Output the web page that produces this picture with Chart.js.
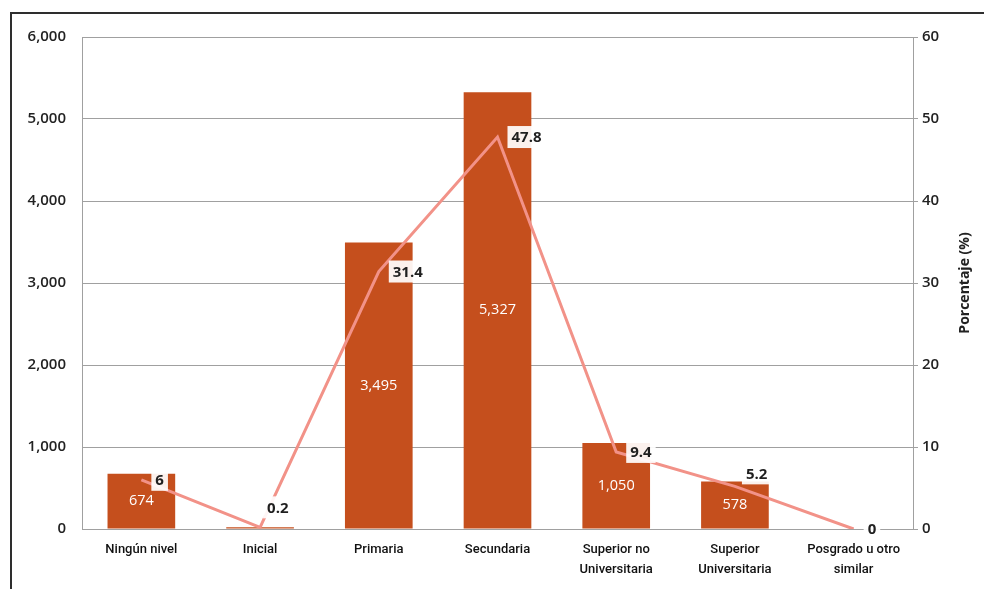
<!DOCTYPE html>
<html lang="es">
<head>
<meta charset="utf-8">
<title>Nivel educativo</title>
<script src="https://cdn.jsdelivr.net/npm/chart.js@4.4.1/dist/chart.umd.min.js"></script>
<style>
    html, body { margin: 0; padding: 0; background: #fff; overflow: hidden; }
    #marco { position: absolute; left: 10px; top: 12px; width: 1000px; height: 600px; border: 2px solid #2e2e2e; }
    #contenedor { position: absolute; left: 0; top: 0; width: 984px; height: 589px; }
</style>
</head>
<body>
<div id="marco"></div>
<div id="contenedor"><canvas id="grafico"></canvas></div>
<script>
// Datos del gráfico
const niveles = ['Ningún nivel', 'Inicial', 'Primaria', 'Secundaria', ['Superior no', 'Universitaria'], ['Superior', 'Universitaria'], ['Posgrado u otro', 'similar']];
const poblacion = [674, 22, 3495, 5327, 1050, 578, 0];
const porcentaje = [6, 0.2, 31.4, 47.8, 9.4, 5.2, 0];
const ticksPoblacion = [0, 1000, 2000, 3000, 4000, 5000, 6000];
const ticksPorcentaje = [0, 10, 20, 30, 40, 50, 60];

const colorBarra = '#c54f1d';
const colorLinea = '#f29288';
const colorGrilla = '#a0a0a0';
const fuente = "'Open Sans', 'Noto Sans', sans-serif";

// Etiquetas de valores, título del eje derecho
const etiquetasPlugin = {
    id: 'etiquetas',
    afterDatasetsDraw(chart, args, opts) {
        const ctx = chart.ctx;
        const barras = chart.getDatasetMeta(1);
        const linea = chart.getDatasetMeta(0);
        ctx.save();

        // valores dentro de las barras
        ctx.font = '500 14.5px ' + fuente;
        ctx.fillStyle = '#ffffff';
        ctx.textAlign = 'center';
        ctx.textBaseline = 'middle';
        barras.data.forEach((bar, i) => {
            const v = poblacion[i];
            if (v < 100) return;
            ctx.fillText(v.toLocaleString('en-US'), bar.x, (bar.y + bar.base) / 2);
        });

        // porcentajes con recuadro blanco
        ctx.font = 'bold 15px ' + fuente;
        ctx.textAlign = 'left';
        linea.data.forEach((pt, i) => {
            const txt = String(porcentaje[i]);
            const d = opts.desplazamientos[i] || [14, 0];
            const w = ctx.measureText(txt).width;
            const x = pt.x + d[0];
            const y = pt.y + d[1];
            ctx.fillStyle = 'rgba(255,255,255,0.92)';
            ctx.fillRect(x - 4, y - 11, w + 8, 22);
            ctx.fillStyle = '#1f1f1f';
            ctx.fillText(txt, x, y + 1);
        });

        // título del eje secundario, girado hacia arriba
        const area = chart.chartArea;
        ctx.translate(965, (area.top + area.bottom) / 2);
        ctx.rotate(-Math.PI / 2);
        ctx.font = 'bold 14px ' + fuente;
        ctx.textAlign = 'center';
        ctx.fillStyle = '#222';
        ctx.fillText('Porcentaje (%)', 0, 0);
        ctx.restore();
    }
};

const grafico = new Chart(document.getElementById('grafico'), {
    data: {
        labels: niveles,
        datasets: [{
            type: 'line',
            label: 'Porcentaje',
            data: porcentaje,
            yAxisID: 'y1',
            borderColor: colorLinea,
            borderWidth: 3,
            pointRadius: 0,
            tension: 0,
            order: 0
        }, {
            type: 'bar',
            label: 'Población',
            data: poblacion,
            yAxisID: 'y',
            backgroundColor: colorBarra,
            categoryPercentage: 1,
            barPercentage: 0.57,
            order: 1
        }]
    },
    options: {
        responsive: true,
        maintainAspectRatio: false,
        animation: false,
        layout: { padding: { top: 37, left: 0, right: 0, bottom: 0 } },
        plugins: {
            legend: { display: false },
            tooltip: { enabled: false },
            etiquetas: {
                desplazamientos: { 1: [7, -20], 5: [11, -13] }
            }
        },
        scales: {
            x: {
                grid: { display: false, drawTicks: false },
                border: { display: false },
                ticks: {
                    padding: 10,
                    color: '#111',
                    font: { family: "Roboto, 'Liberation Sans', sans-serif", size: 13, weight: '500', lineHeight: 1.6 },
                    maxRotation: 0,
                    autoSkip: false
                },
                afterFit(scale) { scale.height = 60; }
            },
            y: {
                position: 'left',
                min: 0,
                max: 6000,
                afterBuildTicks(scale) { scale.ticks = ticksPoblacion.map(v => ({ value: v })); },
                grid: { color: colorGrilla, drawTicks: false },
                border: { color: colorGrilla },
                ticks: {
                    padding: 16,
                    color: '#222',
                    font: { family: fuente, size: 15, weight: '600' },
                    callback: v => v.toLocaleString('en-US')
                },
                afterFit(scale) { scale.width = 82; }
            },
            y1: {
                position: 'right',
                min: 0,
                max: 60,
                afterBuildTicks(scale) { scale.ticks = ticksPorcentaje.map(v => ({ value: v })); },
                grid: { drawOnChartArea: false, color: colorGrilla, tickLength: 5 },
                border: { color: colorGrilla },
                ticks: {
                    padding: 4,
                    color: '#222',
                    font: { family: fuente, size: 15, weight: '600' }
                },
                afterFit(scale) { scale.width = 71; }
            }
        }
    },
    plugins: [etiquetasPlugin]
});
</script>
</body>
</html>
